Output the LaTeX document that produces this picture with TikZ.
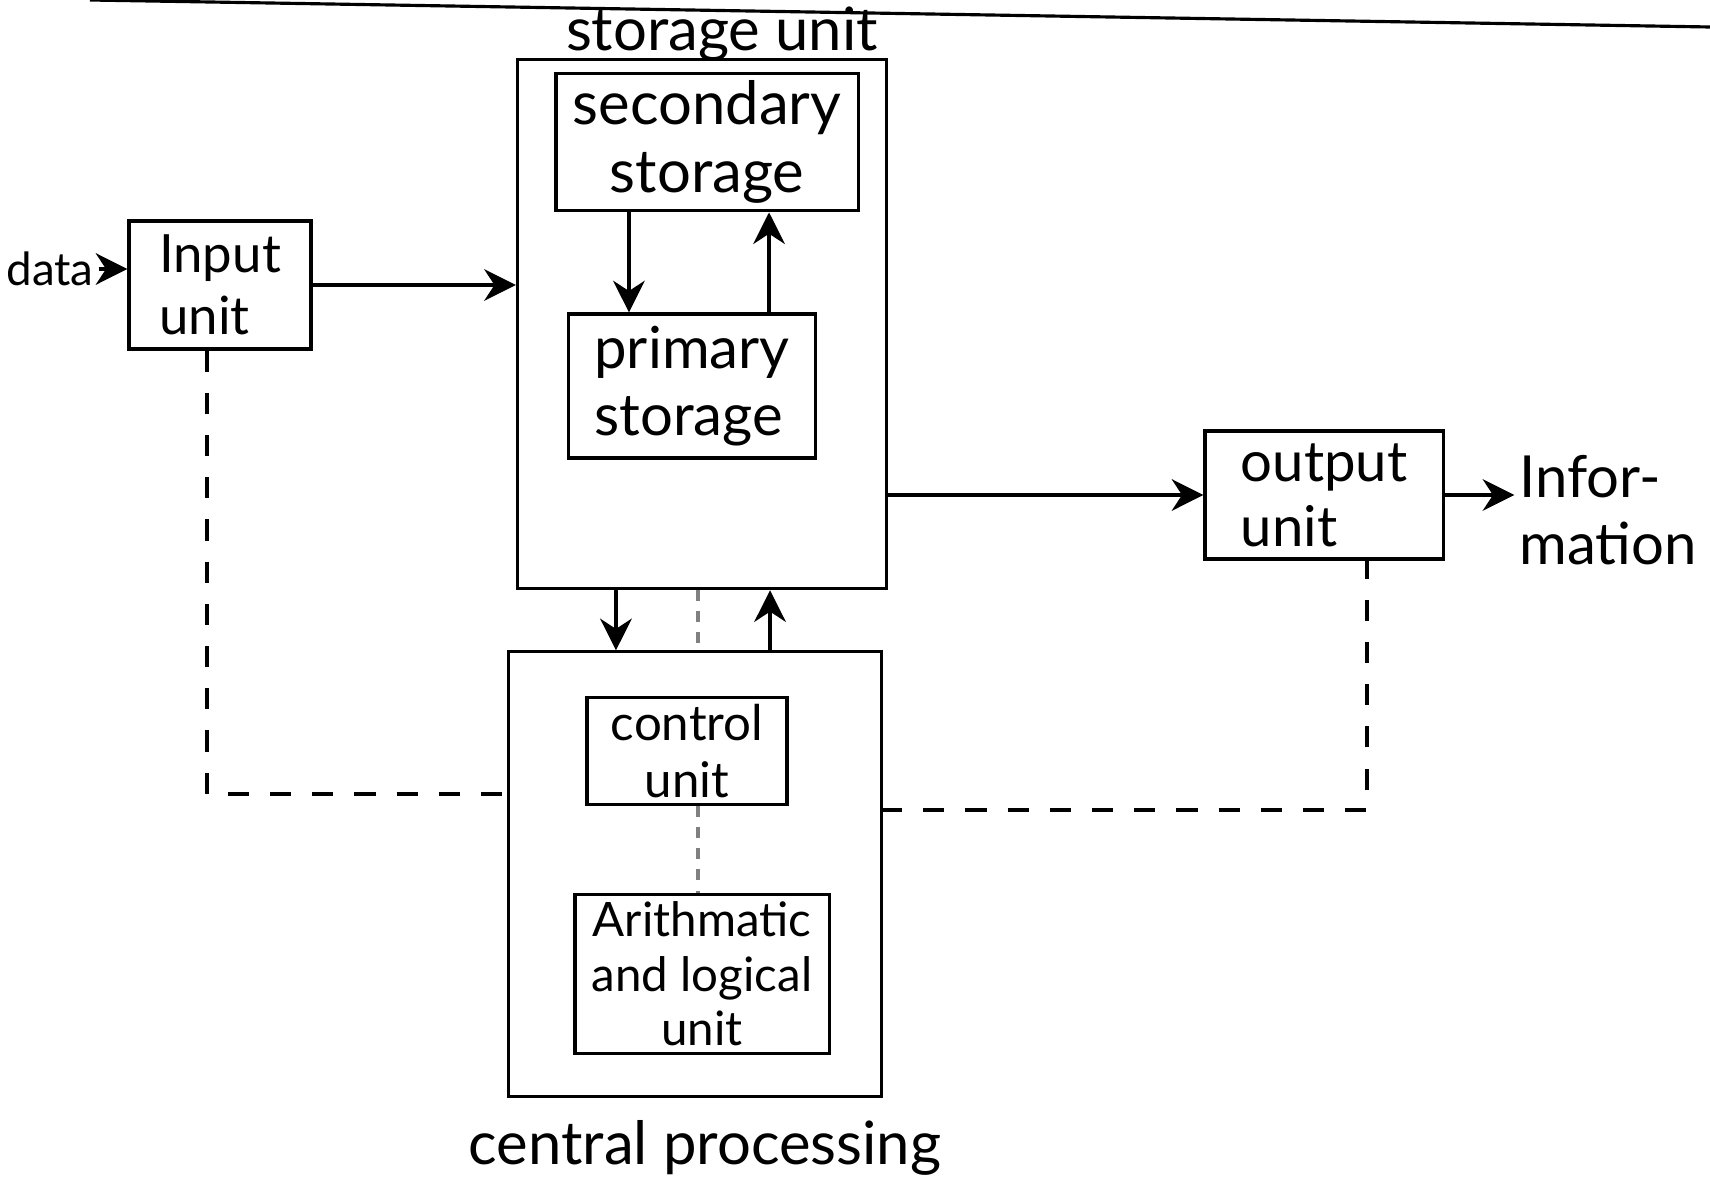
\documentclass[tikz,border=0pt]{standalone}
\usepackage{fontspec}
\setmainfont{Lato}
\usetikzlibrary{arrows.meta, positioning}

\begin{document}
\begin{tikzpicture}[x=0.01cm, y=-0.01cm, line width=0.9pt,
    unitbox/.style={draw, align=center, inner sep=2pt},
    tag/.style={font=\fontsize{17}{22}\selectfont, inner sep=1pt},
    arr/.style={-{Stealth[length=9pt, width=9pt]}},
    link/.style={dash pattern=on 6pt off 6pt},
    faint/.style={gray, dash pattern=on 3pt off 3pt}]
\useasboundingbox (0,0) rectangle (1710,1182);

% ruled line of the page
\draw (90,0) -- (1710,27);

% storage unit with its two stores
\node[unitbox, minimum width=3.69cm, minimum height=5.29cm] (storage) at (702,324) {};
\node[tag] (storagelabel) at (722,34) {storage unit};
\node[unitbox, font=\fontsize{17}{19.5}\selectfont, minimum width=3.02cm, minimum height=1.31cm] (secondary) at (707,142) {secondary\\storage};
\node[unitbox, align=left, font=\fontsize{16.5}{19}\selectfont, minimum width=2.47cm, minimum height=1.44cm] (primary) at (692,386) {primary\\storage};
\draw[arr] ([xshift=-0.78cm]secondary.south) -- ([xshift=-0.78cm]secondary.south |- primary.north);
\draw[arr] ([xshift=0.77cm]primary.north) -- ([xshift=0.77cm]primary.north |- secondary.south);

% input and output
\node[unitbox, align=left, font=\fontsize{15}{17.5}\selectfont, minimum width=1.82cm, minimum height=1.28cm] (input) at (220,285) {Input\\unit};
\node[tag, font=\fontsize{13}{16}\selectfont] (data) at (50,269) {data};
\draw[arr] (data.east) -- (data.east -| input.west);
\draw[arr] (input.east) -- (input.east -| storage.west);

\node[unitbox, align=left, font=\fontsize{16}{18.5}\selectfont, minimum width=2.38cm, minimum height=1.28cm] (output) at (1324,495) {output\\unit};
\node[tag, align=left, font=\fontsize{16.5}{19}\selectfont] (info) at (1608,510) {Infor-\\mation};
\draw[arr] (storage.east |- output.west) -- (output.west);
\draw[arr] (output.east) -- (output.east -| info.west);

% central processing unit
\node[unitbox, minimum width=3.72cm, minimum height=4.44cm] (cpu) at (695,874) {};
\node[tag] (cpulabel) at (705,1148) {central processing};
\node[unitbox, font=\fontsize{14}{16}\selectfont, minimum width=2.0cm, minimum height=1.07cm] (control) at (687,751) {control\\unit};
\node[unitbox, font=\fontsize{13.5}{15.5}\selectfont, minimum width=2.54cm, minimum height=1.49cm] (alu) at (702,974) {Arithmatic\\and logical\\unit};

\draw[arr] ([xshift=-0.86cm]storage.south) -- ([xshift=-0.86cm]storage.south |- cpu.north);
\draw[arr] ([xshift=0.75cm]cpu.north) -- ([xshift=0.75cm]cpu.north |- storage.south);
\draw[faint] ([xshift=-0.04cm]storage.south) -- ([xshift=-0.04cm]storage.south |- cpu.north);
\draw[faint] ([xshift=0.11cm]control.south) -- ([xshift=0.11cm]control.south |- alu.north);

% control lines
\coordinate (ctrlin) at (509,794);
\coordinate (ctrlout) at (881,810);
\draw[link] ([xshift=-0.13cm]input.south) |- (ctrlin);
\draw[link] (ctrlout) -| ([xshift=0.43cm]output.south);
\end{tikzpicture}
\end{document}
